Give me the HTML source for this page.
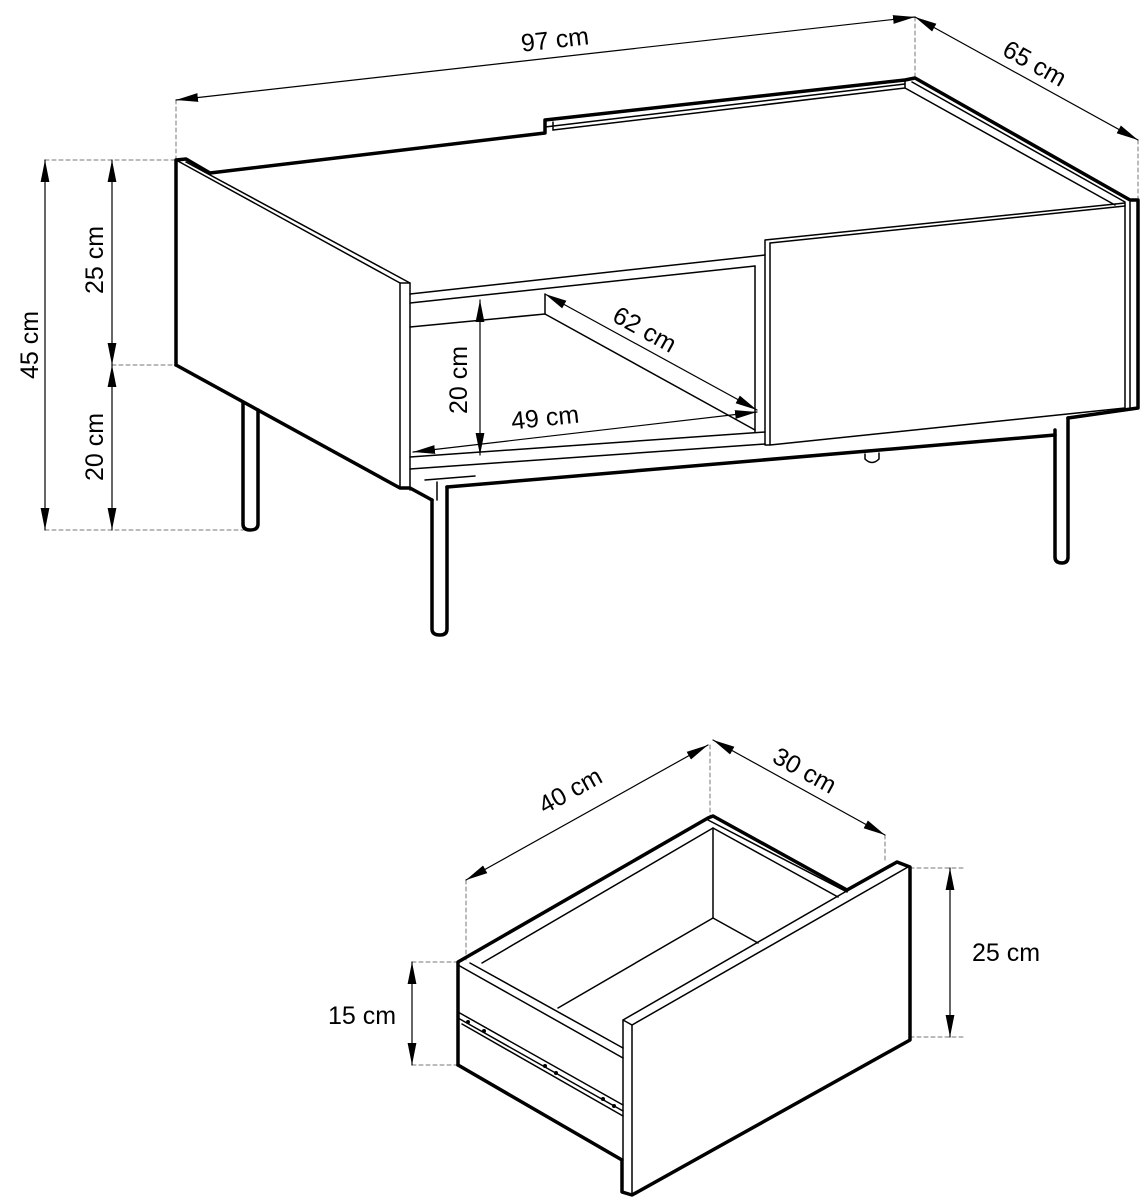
<!DOCTYPE html>
<html><head><meta charset="utf-8"><style>
html,body{margin:0;padding:0;background:#fff;}
svg{display:block;}
text{font-family:"Liberation Sans",sans-serif;font-size:25px;fill:#000;}
</style></head><body>
<svg width="1140" height="1200" viewBox="0 0 1140 1200" xmlns="http://www.w3.org/2000/svg">
<defs>
<marker id="a" viewBox="0 0 20 10" refX="20" refY="5" markerWidth="22" markerHeight="11" orient="auto-start-reverse" markerUnits="userSpaceOnUse"><path d="M0,1 L20,5 L0,9 z" fill="#000"/></marker>
</defs>
<g fill="none" stroke="#000" stroke-linecap="round" stroke-linejoin="round">
<g stroke="#777" stroke-width="1" stroke-dasharray="4,3">
<line x1="176" y1="100" x2="176" y2="158"/>
<line x1="915" y1="17" x2="915" y2="76"/>
<line x1="1138" y1="140" x2="1138" y2="198"/>
<line x1="45" y1="160" x2="176" y2="160"/>
<line x1="112" y1="365" x2="176" y2="365"/>
<line x1="45" y1="530" x2="243" y2="530"/>
<line x1="466" y1="880" x2="466" y2="960"/>
<line x1="710" y1="745" x2="710" y2="816"/>
<line x1="885" y1="835" x2="885" y2="862"/>
<line x1="910" y1="868" x2="965" y2="868"/>
<line x1="910" y1="1037" x2="965" y2="1037"/>
<line x1="412" y1="962" x2="458" y2="962"/>
<line x1="412" y1="1065" x2="458" y2="1065"/>
</g>
<g stroke-width="1.2">
<line x1="176" y1="100" x2="915" y2="17" marker-start="url(#a)" marker-end="url(#a)"/>
<line x1="915" y1="17" x2="1138" y2="140" marker-start="url(#a)" marker-end="url(#a)"/>
<line x1="45" y1="160" x2="45" y2="530" marker-start="url(#a)" marker-end="url(#a)"/>
<line x1="112" y1="160" x2="112" y2="365" marker-start="url(#a)" marker-end="url(#a)"/>
<line x1="112" y1="365" x2="112" y2="530" marker-start="url(#a)" marker-end="url(#a)"/>
<line x1="480" y1="300" x2="480" y2="455" marker-start="url(#a)" marker-end="url(#a)"/>
<line x1="413" y1="452" x2="757" y2="412" marker-start="url(#a)" marker-end="url(#a)"/>
<line x1="545" y1="294" x2="757" y2="410" marker-start="url(#a)" marker-end="url(#a)"/>
<line x1="466" y1="880" x2="708" y2="745" marker-start="url(#a)" marker-end="url(#a)"/>
<line x1="713" y1="740" x2="885" y2="835" marker-start="url(#a)" marker-end="url(#a)"/>
<line x1="950" y1="868" x2="950" y2="1037" marker-start="url(#a)" marker-end="url(#a)"/>
<line x1="412" y1="962" x2="412" y2="1065" marker-start="url(#a)" marker-end="url(#a)"/>
</g>
<g stroke-width="3.5">
<polyline points="176,365 176,160 186,159 210,173 545,133 545,120 905,80 915,78 1130,200 1138,200 1138,408 1068,418"/>
<polyline points="176,365 400,488 410,488 432,500"/>
<polyline points="447,487 1055,435"/>
<path d="M243,403 L243,524 Q243,530 250,530 Q258,530 258,524 L258,410"/>
<path d="M432,500 L432,629 Q432,635 440,635 Q447,635 447,629 L447,487"/>
<path d="M1055,430 L1055,557 Q1055,563 1062,563 Q1068,563 1068,557 L1068,418"/>
</g>
<g stroke-width="1.5">
<polyline points="186,162 410,283 410,490"/>
<polyline points="176,160 400,283 400,488"/>
<line x1="400" y1="283" x2="410" y2="283"/>
<line x1="553" y1="122" x2="553" y2="130"/>
<line x1="553" y1="130" x2="905" y2="88"/>
<line x1="545" y1="127" x2="905" y2="84"/>
<line x1="905" y1="80" x2="905" y2="88"/>
<line x1="905" y1="88" x2="1115" y2="205"/>
<line x1="912" y1="82" x2="1125" y2="202"/>
<line x1="410" y1="294" x2="765" y2="255"/>
<line x1="410" y1="303" x2="755" y2="266"/>
<line x1="410" y1="327" x2="545" y2="314"/>
<line x1="545" y1="294" x2="545" y2="314"/>
<line x1="545" y1="314" x2="755" y2="430"/>
<line x1="755" y1="266" x2="755" y2="432"/>
<line x1="410" y1="457" x2="765" y2="432"/>
<line x1="410" y1="469" x2="765" y2="444"/>
<line x1="425" y1="480" x2="475" y2="476"/>
<line x1="437" y1="482" x2="437" y2="500"/>
<polyline points="770,445 765,445 765,240 1125,203 1125,408 770,445 770,243"/>
<line x1="770" y1="243" x2="1125" y2="206"/>
<line x1="1130" y1="202" x2="1130" y2="408"/>
<path d="M865,454 L865,459 Q872,466 879,459 L879,453"/>
</g>
<g stroke-width="3.5">
<polyline points="458,1065 458,962 708,818 713,816 847,890"/>
<polyline points="458,1065 622,1160 622,1192 632,1195 910,1040 910,867 897,862 847,890"/>
</g>
<g stroke-width="1.5">
<line x1="458" y1="965" x2="623" y2="1058"/>
<line x1="470" y1="963" x2="623" y2="1048"/>
<line x1="482" y1="963" x2="713" y2="828"/>
<line x1="713" y1="828" x2="713" y2="918"/>
<line x1="713" y1="918" x2="558" y2="1008"/>
<line x1="713" y1="918" x2="758" y2="943"/>
<line x1="713" y1="828" x2="838" y2="897"/>
<line x1="708" y1="820" x2="847" y2="892"/>
<polyline points="632,1195 632,1025 908,867"/>
<polyline points="623,1160 623,1020 897,862"/>
<line x1="623" y1="1020" x2="632" y2="1025"/>
<line x1="458" y1="1012" x2="623" y2="1105"/>
<line x1="458" y1="1018" x2="623" y2="1111"/>
<line x1="462" y1="1024" x2="623" y2="1116"/>
</g>
</g>
<g fill="#000">
<circle cx="468" cy="1022" r="2"/><circle cx="484" cy="1031" r="2"/><circle cx="545" cy="1066" r="2"/><circle cx="556" cy="1073" r="2"/><circle cx="603" cy="1099" r="2"/><circle cx="614" cy="1106" r="2"/>
</g>
<text x="555" y="48" transform="rotate(-6.4 555 40)" text-anchor="middle">97 cm</text>
<text x="1035" y="72" transform="rotate(29 1035 63)" text-anchor="middle">65 cm</text>
<text x="38" y="345" transform="rotate(-90 38 345)" text-anchor="middle">45 cm</text>
<text x="103" y="260" transform="rotate(-90 103 260)" text-anchor="middle">25 cm</text>
<text x="103" y="447" transform="rotate(-90 103 447)" text-anchor="middle">20 cm</text>
<text x="467" y="380" transform="rotate(-90 467 380)" text-anchor="middle">20 cm</text>
<text x="545" y="426" transform="rotate(-6 545 417)" text-anchor="middle">49 cm</text>
<text x="645" y="338" transform="rotate(29 645 329)" text-anchor="middle">62 cm</text>
<text x="570" y="799" transform="rotate(-29 570 790)" text-anchor="middle">40 cm</text>
<text x="805" y="779" transform="rotate(29 805 770)" text-anchor="middle">30 cm</text>
<text x="1006" y="961" text-anchor="middle">25 cm</text>
<text x="362" y="1024" text-anchor="middle">15 cm</text>
</svg>
</body></html>
